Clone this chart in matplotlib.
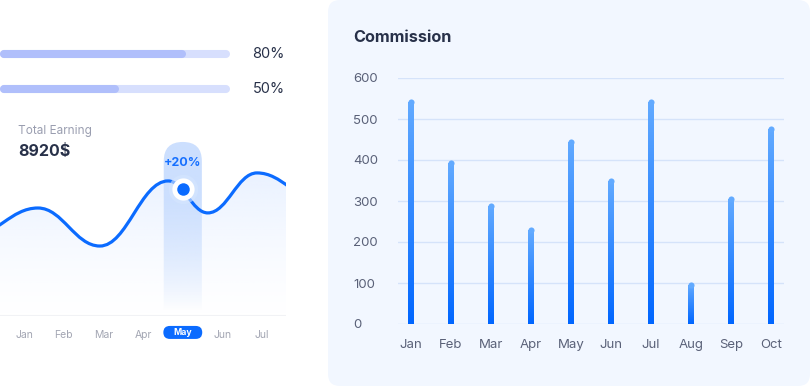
import numpy as np
import matplotlib
matplotlib.use("Agg")
import matplotlib.pyplot as plt
from matplotlib.patches import FancyBboxPatch, PathPatch
from matplotlib.path import Path
from matplotlib.colors import LinearSegmentedColormap, to_rgb

plt.rcParams['font.family'] = ['Inter', 'DejaVu Sans']

# ---- data -------------------------------------------------------------
progress = [80, 50]

earning_total = "8920$"
earning_months = ["Jan", "Feb", "Mar", "Apr", "May", "Jun", "Jul"]
# anchor points of the smooth earning curve (month index, value)
curve_x = [-1.36, 0.35, 1.91, 3.63, 4.63, 5.87, 7.46]
curve_y = [40.8, 55.1, 35.7, 68.9, 52.6, 73.0, 59.2]
focus_month = 4
focus_value = 64.8
focus_change = "+20%"

commission_months = ["Jan", "Feb", "Mar", "Apr", "May", "Jun", "Jul", "Aug", "Sep", "Oct"]
commission = [548, 400, 296, 236, 452, 357, 548, 103, 311, 482]

W, H = 810, 387
BLUE = "#0B6BFF"
DARK = "#283149"


def frac(x0, y0, x1, y1):
    # pixel box (top-left origin) -> figure fraction rect
    return [x0 / W, 1 - y1 / H, (x1 - x0) / W, (y1 - y0) / H]


fig = plt.figure(figsize=(W / 100, H / 100), dpi=100)
fig.patch.set_facecolor("white")

# background / panels
bg = fig.add_axes([0, 0, 1, 1], zorder=-5)
bg.set_xlim(0, W)
bg.set_ylim(H, 0)
bg.axis("off")
bg.add_patch(FancyBboxPatch((328, 0), 482, 386, boxstyle="round,pad=0,rounding_size=12",
                            fc="#F2F7FF", ec="none"))

# ---- progress bars -----------------------------------------------------
axp = fig.add_axes(frac(4, 36.5, 226, 106.5))
axp.set_xlim(0, 100)
axp.set_ylim(1.5, -0.5)
axp.axis("off")
for i, p in enumerate(progress):
    axp.plot([0, 100], [i, i], color="#D7DFFD", lw=5.8, solid_capstyle="round", clip_on=False)
    axp.plot([0, p], [i, i], color="#B0BFFB", lw=5.8, solid_capstyle="round", clip_on=False)
    axp.annotate(f"{p}%", xy=(100, i), xytext=(19, 0), textcoords="offset points",
                 ha="left", va="center", fontsize=10.5, color=DARK)

fig.text(18 / W, 1 - 131 / H, "Total Earning", fontsize=8.5, color="#9A9EB0", va="center")
fig.text(18 / W, 1 - 152 / H, earning_total, fontsize=11.5, fontweight="bold", color=DARK, va="center")

# ---- earning curve -----------------------------------------------------
axl = fig.add_axes(frac(0, 120, 286, 316))
x_lo, x_hi = -0.605, 6.6
axl.set_xlim(x_lo, x_hi)
axl.set_ylim(0, 100)
for s in axl.spines.values():
    s.set_visible(False)
axl.set_yticks([])

k = 0.4
verts = [(curve_x[0], curve_y[0])]
codes = [Path.MOVETO]
for i in range(len(curve_x) - 1):
    x0, y0, x1, y1 = curve_x[i], curve_y[i], curve_x[i + 1], curve_y[i + 1]
    dx = x1 - x0
    verts += [(x0 + k * dx, y0), (x1 - k * dx, y1), (x1, y1)]
    codes += [Path.CURVE4] * 3
curve = Path(verts, codes)
area = Path(verts + [(curve_x[-1], 0), (curve_x[0], 0), (0, 0)],
            codes + [Path.LINETO, Path.LINETO, Path.CLOSEPOLY])

# area gradient
grad = np.zeros((200, 1, 4))
grad[:, 0, :3] = to_rgb("#E2EDFF")
grad[:, 0, 3] = np.linspace(0, 0.85, 200) ** 1.3
area_patch = PathPatch(area, fc="none", ec="none")
axl.add_patch(area_patch)
im = axl.imshow(grad, extent=(x_lo, x_hi, 0, 80), origin="lower", aspect="auto", zorder=1)
im.set_clip_path(area_patch)

# highlight column
col = FancyBboxPatch((focus_month - 0.48, -10), 0.96, 98.8,
                     boxstyle="round,pad=0,rounding_size=0.48", mutation_aspect=20.26,
                     fc="none", ec="none")
axl.add_patch(col)
cg = np.zeros((200, 1, 4))
cg[:, 0, :3] = to_rgb("#CCDFFE")
cg[:, 0, 3] = np.clip(np.linspace(-0.05, 1.5, 200), 0, 1) ** 0.8
cim = axl.imshow(cg, extent=(focus_month - 0.5, focus_month + 0.5, 0, 89), origin="lower",
                 aspect="auto", zorder=2)
cim.set_clip_path(col)
axl.set_xlim(x_lo, x_hi)
axl.set_ylim(0, 100)

axl.add_patch(PathPatch(curve, fc="none", ec=BLUE, lw=2.3, zorder=3, capstyle="round"))
axl.axhline(0, color="#F1F2F5", lw=1.5, zorder=0)

axl.plot(focus_month, focus_value, "o", ms=21, color="#D6E6FF", alpha=0.6, mew=0, zorder=4)
axl.plot(focus_month, focus_value, "o", ms=16, color="white", mew=0, zorder=5)
axl.plot(focus_month, focus_value, "o", ms=9, color=BLUE, mew=0, zorder=6)
axl.text(focus_month, 78.1, focus_change, ha="center", va="center", fontsize=9,
         fontweight="bold", color="#1670FF", zorder=6)

# month labels + pill
axl.set_xticks(range(len(earning_months)),
               [m if i != focus_month else "" for i, m in enumerate(earning_months)])
axl.tick_params(axis="x", length=0, pad=10, labelsize=7.5, labelcolor="#A3A6B3")
pill = FancyBboxPatch((focus_month - 0.49, -11.7), 0.98, 6.63,
                      boxstyle="round,pad=0,rounding_size=0.164", mutation_aspect=20.26,
                      fc=BLUE, ec="none", clip_on=False, zorder=7)
axl.add_patch(pill)
axl.text(focus_month, -8.5, earning_months[focus_month], ha="center", va="center",
         fontsize=6.3, fontweight="bold", color="white", clip_on=False, zorder=8)

# ---- commission bars ---------------------------------------------------
axc = fig.add_axes(frac(398, 78, 784, 324))
fig.text(353 / W, 1 - 38 / H, "Commission", fontsize=11.7, fontweight="bold", color=DARK, va="center")

cmap = LinearSegmentedColormap.from_list("bar", ["#0066FF", "#62AAFF"])
bar_w = 0.15
cap = 3 / 41 * 100
x = np.arange(len(commission))
bars = axc.bar(x, np.array(commission) - cap, width=bar_w, color="none", zorder=2)
g = np.linspace(0, 1, 256).reshape(-1, 1)
for xi, v, b in zip(x, commission, bars):
    bim = axc.imshow(g, cmap=cmap, extent=(xi - bar_w / 2, xi + bar_w / 2, 0, v - cap),
                     origin="lower", aspect="auto", zorder=2)
    bim.set_clip_path(b)
    axc.plot(xi, v - cap, "o", ms=4.4, color="#62AAFF", mew=0, zorder=2)

axc.set_xlim(-0.325, 9.325)
axc.set_ylim(0, 600)
axc.set_yticks(range(0, 601, 100))
axc.grid(axis="y", color="#D5E3FA", lw=1, zorder=0)
axc.set_axisbelow(True)
axc.set_facecolor("none")
for s in axc.spines.values():
    s.set_visible(False)
axc.set_xticks(x, commission_months)
axc.tick_params(axis="x", length=0, pad=11, labelsize=9.5, labelcolor="#5A6178")
axc.tick_params(axis="y", length=0, pad=32.4, labelsize=9.5, labelcolor="#5A6178")
for t in axc.get_yticklabels():
    t.set_ha("left")

fig.savefig("out.png", dpi=100)
